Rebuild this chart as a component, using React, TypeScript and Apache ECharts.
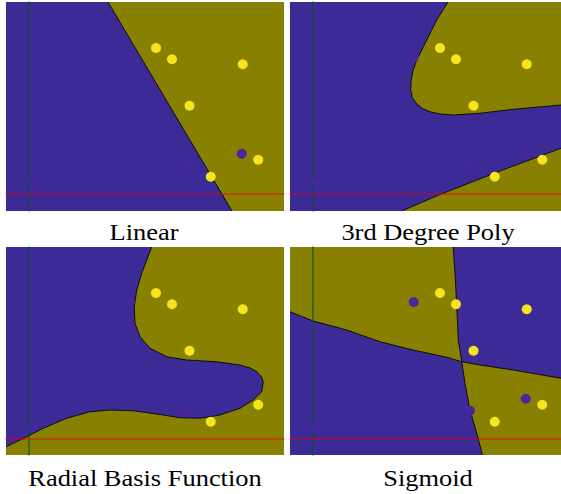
import React, { useEffect, useRef } from "react";
import * as echarts from "echarts";

// Palette
const PURPLE = "#3c2a96";
const OLIVE = "#888000";
const YELLOW_DOT = "#f6e41e";
const PURPLE_DOT = "#47289c";
const BOUNDARY = "rgba(0,0,0,0.85)";
const X_AXIS_LINE = "rgba(235,0,0,0.55)";
const Y_AXIS_LINE = "rgba(0,90,30,0.75)";

// Training samples (shared by every panel)
const class1Points = [
  [5.08, 5.84],
  [5.72, 5.39],
  [8.55, 5.19],
  [6.42, 3.53],
  [9.17, 1.37],
  [7.27, 0.69],
];
const class0Points = [
  [4.03, 5.48],
  [6.28, 1.13],
  [8.51, 1.61],
  [0.16, 0.49],
];

// Decision boundaries
const linearBoundary = [
  [3.16, 7.68],
  [8.12, -0.68],
];
const polyUpperBoundary = [
  [5.4, 7.68],
  [4.95, 6.96],
  [4.55, 6.16],
  [4.15, 5.36],
  [3.99, 4.9],
  [3.92, 4.5],
  [3.91, 4.15],
  [3.98, 3.85],
  [4.15, 3.6],
  [4.38, 3.42],
  [4.68, 3.29],
  [5.1, 3.2],
  [5.61, 3.16],
  [6.68, 3.23],
  [8.01, 3.39],
  [9.92, 3.56],
];
const polyLowerBoundary = [
  [3.55, -0.68],
  [5.08, -0.02],
  [7.48, 0.92],
  [9.92, 1.83],
];
const rbfBoundary = [
  [4.91, 7.68],
  [4.71, 7.16],
  [4.51, 6.63],
  [4.31, 5.96],
  [4.21, 5.29],
  [4.24, 4.63],
  [4.44, 4.09],
  [4.84, 3.63],
  [5.51, 3.29],
  [6.31, 3.16],
  [7.51, 3.09],
  [8.44, 2.96],
  [8.85, 2.84],
  [9.11, 2.69],
  [9.3, 2.48],
  [9.37, 2.29],
  [9.31, 1.89],
  [8.97, 1.56],
  [8.44, 1.23],
  [7.64, 0.96],
  [6.84, 0.83],
  [6.04, 0.85],
  [5.11, 1.0],
  [4.17, 1.13],
  [3.24, 1.16],
  [2.44, 1.09],
  [1.51, 0.83],
  [0.57, 0.43],
  [-0.09, 0.09],
  [-0.92, -0.31],
];
const sigmoidCross = [5.95, 3.09];
const sigmoidVerticalTop = [
  [5.61, 7.68],
  [5.68, 6.63],
  [5.75, 5.29],
  [5.81, 3.96],
  sigmoidCross,
];
const sigmoidVerticalBottom = [
  sigmoidCross,
  [6.08, 2.23],
  [6.28, 1.16],
  [6.55, 0.23],
  [6.78, -0.64],
];
const sigmoidHorizontalLeft = [
  [-0.92, 5.09],
  [0.01, 4.72],
  [1.35, 4.36],
  [2.68, 3.89],
  [4.01, 3.56],
  [5.35, 3.27],
  sigmoidCross,
];
const sigmoidHorizontalRight = [
  sigmoidCross,
  [6.68, 2.96],
  [8.01, 2.76],
  [9.92, 2.43],
];

const panelTitles = ["Linear", "3rd Degree Poly", "Radial Basis Function", "Sigmoid"];

type Pt = number[];

interface Panel {
  title: string;
  rect: { left: number; top: number; width: number; height: number };
  xMin: number;
  xMax: number;
  yMin: number;
  yMax: number;
  background: string;
  regions: { points: Pt[]; color: string }[];
  boundaries: Pt[][];
  labelX: number;
  labelY: number;
}

function buildPanels(): Panel[] {
  const xMin = -0.92;
  const yMax = 7.68;
  const p1 = { xMin, xMax: 10.2, yMin: -0.68, yMax };
  const p2 = { xMin, xMax: 9.92, yMin: -0.68, yMax };
  const p3 = { xMin, xMax: 10.2, yMin: -0.64, yMax };
  const p4 = { xMin, xMax: 9.92, yMin: -0.64, yMax };
  return [
    {
      title: panelTitles[0],
      rect: { left: 6, top: 2, width: 278, height: 209 },
      ...p1,
      background: PURPLE,
      regions: [
        {
          points: [...linearBoundary, [p1.xMax, p1.yMin], [p1.xMax, p1.yMax]],
          color: OLIVE,
        },
      ],
      boundaries: [linearBoundary],
      labelX: 144,
      labelY: 232,
    },
    {
      title: panelTitles[1],
      rect: { left: 290, top: 2, width: 271, height: 209 },
      ...p2,
      background: PURPLE,
      regions: [
        { points: [...polyUpperBoundary, [p2.xMax, p2.yMax]], color: OLIVE },
        { points: [...polyLowerBoundary, [p2.xMax, p2.yMin]], color: OLIVE },
      ],
      boundaries: [polyUpperBoundary, polyLowerBoundary],
      labelX: 428,
      labelY: 232,
    },
    {
      title: panelTitles[2],
      rect: { left: 6, top: 247, width: 278, height: 208 },
      ...p3,
      background: OLIVE,
      regions: [{ points: [...rbfBoundary, [p3.xMin, p3.yMax]], color: PURPLE }],
      boundaries: [rbfBoundary],
      labelX: 145,
      labelY: 478,
    },
    {
      title: panelTitles[3],
      rect: { left: 290, top: 247, width: 271, height: 208 },
      ...p4,
      background: OLIVE,
      regions: [
        {
          points: [...sigmoidVerticalTop, ...sigmoidHorizontalRight.slice(1), [p4.xMax, p4.yMax]],
          color: PURPLE,
        },
        {
          points: [...sigmoidHorizontalLeft, ...sigmoidVerticalBottom.slice(1), [p4.xMin, p4.yMin]],
          color: PURPLE,
        },
      ],
      boundaries: [sigmoidVerticalTop, sigmoidVerticalBottom, sigmoidHorizontalLeft, sigmoidHorizontalRight],
      labelX: 428,
      labelY: 478,
    },
  ];
}

function buildOption() {
  const panels = buildPanels();
  const grid: any[] = [];
  const xAxis: any[] = [];
  const yAxis: any[] = [];
  const series: any[] = [];
  const graphic: any[] = [];

  panels.forEach((p, i) => {
    grid.push({
      ...p.rect,
      show: true,
      backgroundColor: p.background,
      borderWidth: 0,
      containLabel: false,
    });
    const hiddenParts = {
      axisTick: { show: false },
      axisLabel: { show: false },
      splitLine: { show: false },
    };
    xAxis.push({
      gridIndex: i,
      type: "value",
      min: p.xMin,
      max: p.xMax,
      z: 10,
      axisLine: { show: true, onZero: true, lineStyle: { color: X_AXIS_LINE, width: 1.5 } },
      ...hiddenParts,
    });
    yAxis.push({
      gridIndex: i,
      type: "value",
      min: p.yMin,
      max: p.yMax,
      z: 10,
      axisLine: { show: true, onZero: true, lineStyle: { color: Y_AXIS_LINE, width: 1.5 } },
      ...hiddenParts,
    });

    p.regions.forEach((region) => {
      series.push({
        type: "custom",
        xAxisIndex: i,
        yAxisIndex: i,
        z: 1,
        silent: true,
        data: region.points,
        renderItem: (params: any, api: any) => {
          if (params.dataIndex !== 0) return null;
          return {
            type: "polygon",
            shape: { points: region.points.map((pt) => api.coord(pt)) },
            style: { fill: region.color },
          };
        },
      });
    });

    p.boundaries.forEach((curve) => {
      series.push({
        type: "line",
        xAxisIndex: i,
        yAxisIndex: i,
        z: 3,
        silent: true,
        showSymbol: false,
        symbol: "none",
        data: curve,
        lineStyle: { color: BOUNDARY, width: 1 },
      });
    });

    series.push({
      type: "scatter",
      xAxisIndex: i,
      yAxisIndex: i,
      z: 20,
      symbolSize: [10, 10],
      data: class0Points,
      itemStyle: { color: PURPLE_DOT, opacity: 1 },
    });
    series.push({
      type: "scatter",
      xAxisIndex: i,
      yAxisIndex: i,
      z: 20,
      symbolSize: [10, 10],
      data: class1Points,
      itemStyle: { color: YELLOW_DOT, opacity: 1 },
    });

    graphic.push({
      type: "text",
      x: p.labelX,
      y: p.labelY,
      scaleX: 1.15,
      style: {
        text: p.title,
        font: '23px "Liberation Serif", serif',
        fill: "#000",
        textAlign: "center",
        textVerticalAlign: "middle",
      },
    });
  });

  return {
    animation: false,
    backgroundColor: "#ffffff",
    grid,
    xAxis,
    yAxis,
    series,
    graphic,
  };
}

export default function App() {
  const ref = useRef<HTMLDivElement>(null);

  useEffect(() => {
    if (!ref.current) return;
    const chart = echarts.init(ref.current, undefined, { renderer: "svg" });
    chart.setOption(buildOption());
    return () => chart.dispose();
  }, []);

  return (
    <div
      ref={ref}
      style={{ position: "absolute", left: 0, top: 0, width: 561, height: 494, background: "#fff" }}
    />
  );
}
